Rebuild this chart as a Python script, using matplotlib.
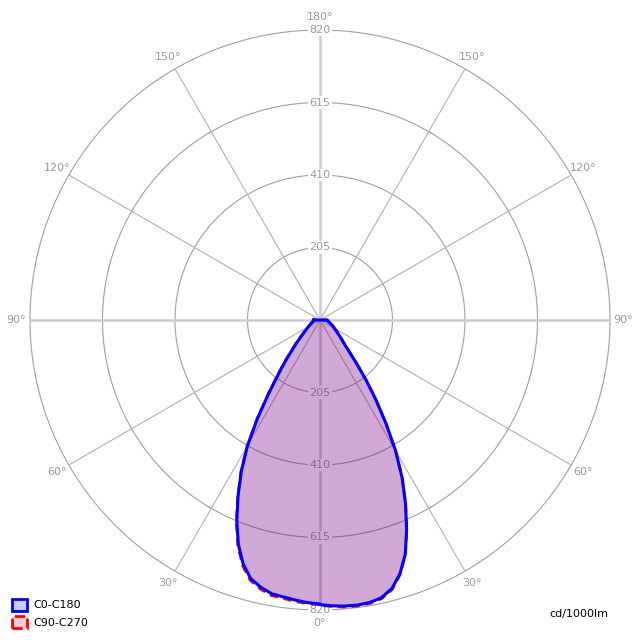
import numpy as np
import matplotlib
matplotlib.use("Agg")
import matplotlib.pyplot as plt
from matplotlib.patches import Patch

# Gamma angles (deg) and luminous intensity (cd/1000lm) per C-plane
gamma = [0, 2.5, 5, 7.5, 10, 12.5, 15, 17.5, 20, 22.5, 25, 27.5, 30, 32.5,
         35, 37.5, 40, 42.5, 45, 50, 55, 60, 65, 70, 75, 80, 85, 90]
c0 = [805, 809, 812, 813, 811, 804, 786, 752, 705, 640, 572, 503, 428, 348,
      276, 214, 162, 124, 100, 75, 58, 47, 40, 33, 28, 24, 22, 20]
c180 = [803, 800, 795, 790, 786, 774, 757, 723, 675, 615, 548, 482, 410, 328,
        252, 194, 154, 120, 98, 66, 48, 38, 31, 26, 22, 20, 19, 18]
c90 = [807, 811, 815, 816, 814, 807, 789, 754, 706, 641, 572, 503, 427, 347,
       275, 213, 161, 124, 100, 75, 58, 47, 40, 33, 28, 24, 22, 20]
c270 = [805, 803, 799, 794, 791, 779, 762, 728, 679, 618, 550, 484, 412, 330,
        254, 196, 156, 122, 100, 67, 49, 39, 31, 26, 22, 20, 19, 18]

ring_values = [205, 410, 615, 820]
angle_ticks = [0, 30, 60, 90, 120, 150, 180, 210, 240, 270, 300, 330]
rmax = 820

fig = plt.figure(figsize=(6.4, 6.4), dpi=100)
ax = fig.add_axes([30 / 640, 30 / 640, 580 / 640, 580 / 640], projection="polar")
ax.set_theta_zero_location("S")
ax.set_theta_direction(1)
ax.set_ylim(0, rmax)
ax.set_xticks([])
ax.set_yticks([])
ax.grid(False)
ax.spines["polar"].set_visible(False)

# grid: rings and rays
t = np.linspace(0, 2 * np.pi, 721)
for rv in ring_values:
    ax.plot(t, np.full_like(t, rv), color="#a0a0a0", lw=0.8, zorder=1, clip_on=False)
for a in angle_ticks:
    th = np.deg2rad(a)
    if a % 90 == 0:
        ax.plot([th, th], [0, rmax], color="#cccccc", lw=1.8, zorder=1)
    else:
        ax.plot([th, th], [0, rmax], color="#b0b0b0", lw=0.8, zorder=1)

# ring labels on the vertical axis
for rv in ring_values:
    for a in (0, 180):
        ax.text(np.deg2rad(a), rv, str(rv), ha="center", va="center",
                fontsize=8, color="#999999", zorder=2, clip_on=False,
                bbox=dict(boxstyle="square,pad=0.1", fc="white", ec="none"))

# angle labels
for a in angle_ticks:
    lab = a if a <= 180 else 360 - a
    ax.text(np.deg2rad(a), 858, "%d°" % lab, ha="center", va="center",
            fontsize=8, color="#999999", clip_on=False)


def closed_curve(right, left):
    g = np.array(gamma)
    th = np.concatenate([-g[::-1], g, [90, -90, -90]])
    r = np.concatenate([np.array(left)[::-1], np.array(right), [0, 0, left[-1]]])
    return np.deg2rad(th), r


th_a, r_a = closed_curve(c0, c180)
th_b, r_b = closed_curve(c90, c270)

ax.fill(th_a, r_a, color="blue", alpha=0.21, lw=0, zorder=3)
ax.fill(th_b, r_b, color="red", alpha=0.16, lw=0, zorder=3)
ax.plot(th_b, r_b, color="red", lw=2, ls=(0, (3, 2)), zorder=4)
ax.plot(th_a, r_a, color="blue", lw=2.2, zorder=5, solid_joinstyle="round")

handles = [Patch(facecolor=(0.8, 0.8, 1.0), edgecolor="blue", lw=2, label="C0-C180"),
           Patch(facecolor=(1.0, 0.8, 0.8), edgecolor="red", lw=2, ls="--", label="C90-C270")]
fig.legend(handles=handles, loc="lower left", bbox_to_anchor=(0.012, 0.012),
           frameon=False, fontsize=8, handlelength=1.3, handleheight=1.3,
           handletextpad=0.6, labelspacing=0.45, borderaxespad=0)

fig.text(0.951, 0.041, "cd/1000lm", ha="right", va="center", fontsize=8, color="black")

fig.savefig("out.png", dpi=100)
